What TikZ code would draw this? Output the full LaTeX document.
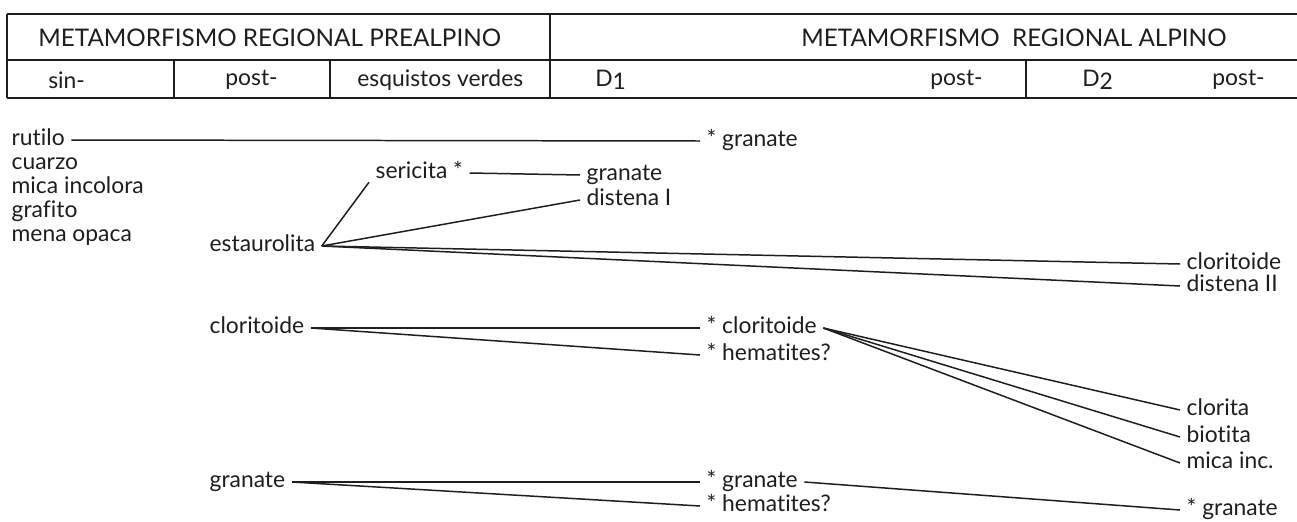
\documentclass[tikz,border=0pt]{standalone}
\usepackage{fontspec}
\setmainfont[Ligatures=NoCommon]{Lato}
\usetikzlibrary{positioning}
\definecolor{cink}{HTML}{1E1E1E}

\begin{document}
\begin{tikzpicture}[
    x=0.02cm, y=-0.02cm,
    font=\fontsize{13}{15}\selectfont,
    mineral/.style={
        anchor=west, inner xsep=3.6pt, inner ysep=0pt,
        text height=1.6ex, text depth=0.4ex, text=cink,
    },
    headtxt/.style={anchor=west, inner sep=0pt, text=cink},
    rule/.style={line width=1.1pt, cink},
    conn/.style={line width=0.85pt, cink},
]
\useasboundingbox (0,0) rectangle (1297,521);

% ============================================================
% TABLE HEADER
% ============================================================
\draw[rule] (7,14) -- (1297,14);
\draw[rule] (7,60) -- (1297,60);
\draw[rule] (7,98) -- (1297,98);
\draw[rule] (7,14) -- (7,98);
\draw[rule] (550,14) -- (550,98);
\draw[rule] (174,60) -- (174,98);
\draw[rule] (330,60) -- (330,98);
\draw[rule] (1026,60) -- (1026,98);

\node[headtxt, font=\fontsize{13.8}{16}\selectfont] (prealp) at (38,38) {METAMORFISMO REGIONAL PREALPINO};
\node[headtxt, font=\fontsize{13.8}{16}\selectfont] (alp) at (801,38) {METAMORFISMO\ \ REGIONAL ALPINO};

\node[headtxt] (hsin) at (48,80) {sin-};
\node[headtxt] (hpost) at (225,80) {post-};
\node[headtxt] (hverdes) at (357,80) {esquistos verdes};
\node[headtxt] (hdone) at (595,80) {D\raisebox{-0.3ex}{1}};
\node[headtxt] (hposta) at (930,80) {post-};
\node[headtxt] (hdtwo) at (1082,80) {D\raisebox{-0.3ex}{2}};
\node[headtxt] (hpostb) at (1212,80) {post-};

% ============================================================
% MINERALS
% ============================================================
\node[mineral] (rutilo) at (5,140) {rutilo};
\node[mineral] (cuarzo) at (5,164) {cuarzo};
\node[mineral] (mica) at (5,188) {mica incolora};
\node[mineral] (grafito) at (5,212) {grafito};
\node[mineral] (mena) at (5,236) {mena opaca};

\node[mineral] (s_gran) at (700,141) {* granate};

\node[mineral] (sericita) at (369,173) {sericita *};
\node[mineral] (gran) at (580,175) {granate};
\node[mineral] (disI) at (580,200) {distena I};

\node[mineral] (estaur) at (203,246) {estaurolita};
\node[mineral] (clorid) at (1180,264) {cloritoide};
\node[mineral] (disII) at (1180,286) {distena II};

\node[mineral] (cloritoide) at (203,328) {cloritoide};
\node[mineral] (s_clor) at (700,328) {* cloritoide};
\node[mineral] (s_hem) at (700,355) {* hematites?};

\node[mineral] (clorita) at (1180,410) {clorita};
\node[mineral] (biotita) at (1180,437) {biotita};
\node[mineral] (micainc) at (1180,463) {mica inc.};

\node[mineral] (granate) at (203,482) {granate};
\node[mineral] (s_granb) at (700,482) {* granate};
\node[mineral] (s_hemb) at (700,506) {* hematites?};
\node[mineral] (s_granc) at (1180,510) {* granate};

% ============================================================
% CONNECTIONS
% ============================================================
\draw[conn] (rutilo.east) -- (s_gran.west);
\draw[conn] (sericita.east) -- (gran.west);

% estaurolita fan
\draw[conn] (estaur.east) -- (sericita.south west);
\draw[conn] (estaur.east) -- (disI.west);
\draw[conn] (estaur.east) -- (clorid.west);
\draw[conn] (estaur.east) -- (disII.west);

% cloritoide
\draw[conn] (cloritoide.east) -- (s_clor.west);
\draw[conn] (cloritoide.east) -- (s_hem.west);
\draw[conn] (s_clor.east) -- (clorita.west);
\draw[conn] (s_clor.east) -- (biotita.west);
\draw[conn] (s_clor.east) -- (micainc.west);

% granate
\draw[conn] (granate.east) -- (s_granb.west);
\draw[conn] (granate.east) -- (s_hemb.west);
\draw[conn] (s_granb.east) -- (s_granc.west);

\end{tikzpicture}
\end{document}
